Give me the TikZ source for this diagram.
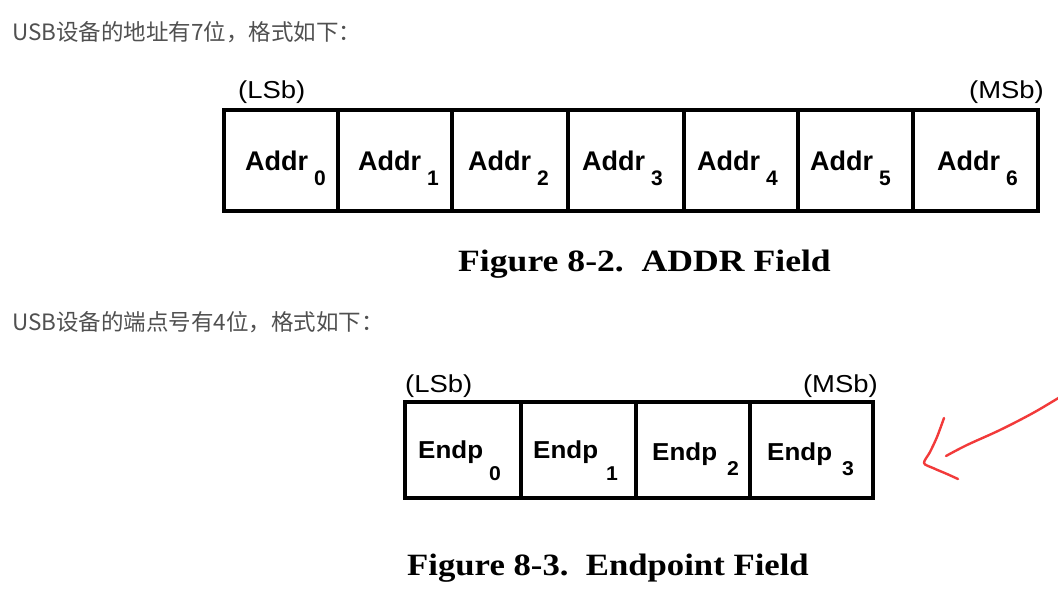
\documentclass[tikz,border=0pt]{standalone}
\usepackage{fontspec}
\setmainfont{Liberation Sans}
\newfontfamily\cjkfont{Noto Sans CJK SC}
\newfontfamily\bitfont[FakeStretch=1.12]{Liberation Sans}
\newfontfamily\endpfont[FakeStretch=1.06]{Liberation Sans}
\newfontfamily\capfont[FakeStretch=1.12]{Liberation Serif}
\newfontfamily\capwidefont[FakeStretch=1.15]{Liberation Serif}
\definecolor{notegray}{HTML}{505050}
\definecolor{penred}{HTML}{F23A3A}

\begin{document}
\begin{tikzpicture}[
    x=1pt, y=-1pt,
    cellbox/.style={draw, line width=3.5pt, inner sep=0pt, outer sep=0pt},
    notelbl/.style={anchor=base west, inner sep=0pt, text=notegray,
      font=\cjkfont\fontsize{22.5}{26}\selectfont},
    bitlbl/.style={inner sep=0pt, font=\bitfont\fontsize{24.5}{28}\selectfont},
    addrlbl/.style={anchor=base west, inner sep=0pt,
      font=\bfseries\fontsize{27}{32}\selectfont},
    endplbl/.style={anchor=base west, inner sep=0pt,
      font=\endpfont\bfseries\fontsize{24.5}{28}\selectfont},
    caplbl/.style={anchor=base west, inner sep=0pt},
    pen/.style={penred, line width=2.4pt, line cap=round, line join=round}
  ]
\fill[white] (0,0) rectangle (1058,592);
\useasboundingbox (0,0) rectangle (1058,592);

% =================== address field (7 bits) ===================
\node[notelbl] (noteA) at (12,40) {USB设备的地址有7位，格式如下：};

\foreach \i/\xl/\xr/\tx in {0/224/338/245, 1/338/452/358, 2/452/568/468,
    3/568/684/582, 4/684/798/697, 5/798/913/810, 6/913/1038/937}{
  \node[cellbox, minimum width={\xr-\xl}, minimum height=101]
    (a\i) at ({(\xl+\xr)/2},160.5) {};
  \node[addrlbl] (alab\i) at (\tx,170)
    {Addr\hspace{6pt}\raisebox{-15pt}{\fontsize{21}{24}\selectfont\i}};
}
\node[bitlbl, anchor=base west] (lsbA) at (238,98) {(LSb)};
\node[bitlbl, anchor=base east] (msbA) at (1044,98) {(MSb)};
\node[caplbl, font=\capwidefont\bfseries\fontsize{31}{35}\selectfont] (capA)
  at (458,271) {Figure 8-2.\ \ ADDR Field};

% =================== endpoint field (4 bits) ===================
\node[notelbl] (noteB) at (12,330) {USB设备的端点号有4位，格式如下：};

\foreach \i/\xl/\xr/\tx/\bl/\gap/\drop in {0/405/521/418/458/6/22,
    1/521/636/533/458/8/22, 2/636/750/652/460/10/15, 3/750/873/767/460/10/15}{
  \node[cellbox, minimum width={\xr-\xl}, minimum height=96]
    (e\i) at ({(\xl+\xr)/2},450) {};
  \node[endplbl] (elab\i) at (\tx,\bl)
    {Endp\hspace{\gap pt}\raisebox{-\drop pt}{\fontsize{20}{24}\selectfont\i}};
}
\node[bitlbl, anchor=base west] (lsbB) at (405,392) {(LSb)};
\node[bitlbl, anchor=base east] (msbB) at (878,392) {(MSb)};
\node[caplbl, font=\capfont\bfseries\fontsize{31}{35}\selectfont] (capB)
  at (407,575) {Figure 8-3.\ \ Endpoint Field};

% hand-drawn red arrow pointing at the endpoint field
\coordinate (penstart) at (1060,397);
\coordinate (pentip) at (924,463);
\draw[pen] plot[smooth, tension=0.6] coordinates
  {(penstart) (1033,413) (1000,430) (967,445) (946,456)};
\draw[pen] plot[smooth, tension=0.5] coordinates
  {(944,418) (937,437) (930,452) (pentip) (933,468) (947,474) (958,479)};

\end{tikzpicture}
\end{document}
